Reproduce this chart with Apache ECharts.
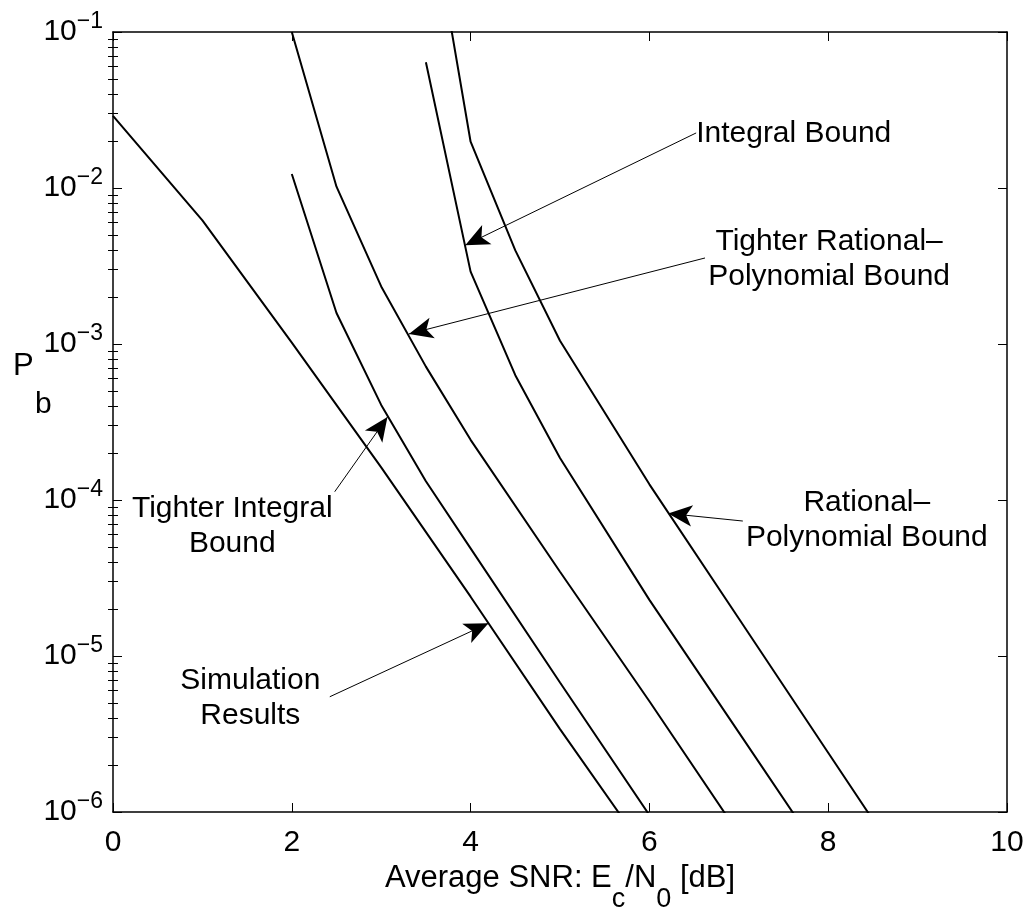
<!DOCTYPE html>
<html>
<head>
<meta charset="UTF-8">
<title>Pb vs average SNR</title>
<script src="https://cdn.jsdelivr.net/npm/echarts@6/dist/echarts.min.js"></script>
<style>
    html, body { margin: 0; padding: 0; background: #fff; }
    #chart { width: 1030px; height: 909px; }
</style>
</head>
<body>
<div id="chart"></div>
<script>
const FONT = '"Liberation Sans", Arial, Helvetica, sans-serif';

// curves: SNR in dB, Pb values
const simX = [0, 1, 2, 3, 4, 5, 6];
const simY = [2.9e-2, 6.2e-3, 1.02e-3, 1.62e-4, 2.4e-5, 3.4e-6, 5.2e-7];

const tightIntX = [2, 2.5, 3, 3.5, 4, 5, 6];
const tightIntY = [1.23e-2, 1.58e-3, 4.07e-4, 1.32e-4, 4.9e-5, 6.76e-6, 9.55e-7];

const tightRatX = [2, 2.5, 3, 3.5, 4, 5, 6, 7];
const tightRatY = [1.0e-1, 1.02e-2, 2.34e-3, 7.16e-4, 2.43e-4, 3.47e-5, 5.13e-6, 7.24e-7];

const intX = [3.5, 4, 4.5, 5, 6, 7, 8];
const intY = [6.4e-2, 2.91e-3, 6.31e-4, 1.86e-4, 2.29e-5, 3.24e-6, 4.57e-7];

const ratX = [3.5, 4, 4.5, 5, 6, 7, 8, 9];
const ratY = [0.933, 1.98e-2, 3.98e-3, 1.05e-3, 1.26e-4, 1.74e-5, 2.40e-6, 3.31e-7];

// axis ticks
const xTicks = [0, 2, 4, 6, 8, 10];
const decades = [1e-6, 1e-5, 1e-4, 1e-3, 1e-2];
const mantissas = [2, 3, 4, 5, 6, 7, 8, 9];

// annotations: text, text anchor, arrow tail, arrow tip (data units)
const noteText = ['Integral Bound', 'Tighter Rational\u2013\nPolynomial Bound', 'Tighter Integral\nBound', 'Simulation\nResults', 'Rational\u2013\nPolynomial Bound'];
const noteAlign = ['left', 'center', 'center', 'center', 'center'];
const noteAt = [[6.523, 2.234e-2], [8.010, 3.48e-3], [1.334, 6.76e-5], [1.536, 5.38e-6], [8.432, 7.39e-5]];
const arrowTail = [[6.523, 2.254e-2], [6.622, 3.56e-3], [2.48, 1.13e-4], [2.425, 5.48e-6], [7.045, 7.33e-5]];
const arrowTip = [[3.94, 4.3e-3], [3.31, 1.16e-3], [3.07, 3.4e-4], [4.20, 1.62e-5], [6.21, 8.2e-5]];

const minorTicks = [];
decades.forEach(d => mantissas.forEach(m => minorTicks.push(+(m * d).toPrecision(3))));

const black = '#000';
const boxLine = { show: true, onZero: false, lineStyle: { color: black, width: 1.5 } };

function curve(name, xs, ys) {
    return {
        name: name,
        type: 'line',
        xAxisIndex: 0,
        yAxisIndex: 0,
        data: xs.map((x, i) => [x, ys[i]]),
        symbol: 'none',
        clip: true,
        silent: true,
        lineStyle: { color: black, width: 2 }
    };
}

function xAxisOf(pos, withLabels) {
    return {
        type: 'value', position: pos, min: 0, max: 10, interval: 2,
        axisLine: boxLine,
        axisTick: { show: true, inside: true, length: 9, lineStyle: { color: black, width: 1 } },
        axisLabel: {
            show: withLabels, margin: 16, color: black, fontSize: 30, fontFamily: FONT
        },
        splitLine: { show: false }
    };
}

function yAxisOf(pos, withLabels) {
    return {
        type: 'log', logBase: 10, position: pos, min: 1e-6, max: 1e-1,
        axisLine: boxLine,
        axisTick: { show: true, inside: true, length: 9, lineStyle: { color: black, width: 1 } },
        axisLabel: {
            show: withLabels, margin: 10, color: black, fontSize: 30, fontFamily: FONT,
            formatter: v => '{b|10}{s|\u2212' + Math.round(-Math.log10(v)) + '}',
            rich: {
                b: { fontSize: 30, lineHeight: 43, fontFamily: FONT, color: black },
                s: { fontSize: 23, lineHeight: 23, verticalAlign: 'top', fontFamily: FONT, color: black }
            }
        },
        splitLine: { show: false }
    };
}

function minorAxisOf(pos) {
    return {
        type: 'log', logBase: 10, position: pos, min: 1e-6, max: 1e-1,
        axisLine: { show: false },
        axisLabel: { show: false },
        splitLine: { show: false },
        axisTick: { show: true, inside: true, length: 5, customValues: minorTicks, lineStyle: { color: black, width: 1 } }
    };
}

const chart = echarts.init(document.getElementById('chart'));

const xMain = xAxisOf('bottom', true);
xMain.name = '{m|Average SNR: E}{s|c}{m|/N}{s|0}{m| [dB]}';
xMain.nameLocation = 'middle';
xMain.nameGap = 29;
xMain.nameTextStyle = {
    color: black,
    rich: {
        m: { fontSize: 31, lineHeight: 70, fontFamily: FONT, color: black },
        s: { fontSize: 27, lineHeight: 27, verticalAlign: 'bottom', fontFamily: FONT, color: black }
    }
};

const sim = curve('Simulation Results', simX, simY);
sim.markLine = {
    silent: true,
    animation: false,
    symbol: ['none', 'arrow'],
    label: { show: false },
    lineStyle: { color: black, width: 1, type: 'solid' },
    data: arrowTail.map((t, i) => [
        { coord: t, symbol: 'none' },
        { coord: arrowTip[i], symbol: 'arrow', symbolSize: [16, 24] }
    ])
};

chart.setOption({
    animation: false,
    backgroundColor: '#fff',
    textStyle: { fontFamily: FONT },
    grid: { left: 113, right: 23, top: 32, bottom: 97, outerBoundsMode: 'none' },
    xAxis: [xMain, xAxisOf('top', false)],
    yAxis: [yAxisOf('left', true), yAxisOf('right', false), minorAxisOf('left'), minorAxisOf('right')],
    series: [
        sim,
        curve('Tighter Integral Bound', tightIntX, tightIntY),
        curve('Tighter Rational-Polynomial Bound', tightRatX, tightRatY),
        curve('Integral Bound', intX, intY),
        curve('Rational-Polynomial Bound', ratX, ratY)
    ]
});

// annotation texts placed through the axes
const notes = noteText.map((t, i) => {
    const p = chart.convertToPixel({ xAxisIndex: 0, yAxisIndex: 0 }, noteAt[i]);
    return {
        type: 'text', silent: true,
        style: {
            text: t, x: p[0], y: p[1], fill: black,
            fontSize: 30, fontFamily: FONT, lineHeight: 35,
            align: noteAlign[i], verticalAlign: 'middle'
        }
    };
});
// y-axis name P_b
notes.push({ type: 'text', silent: true, style: { text: 'P', x: 13, y: 366, fill: black, fontSize: 31, fontFamily: FONT, align: 'left', verticalAlign: 'middle' } });
notes.push({ type: 'text', silent: true, style: { text: 'b', x: 35, y: 405, fill: black, fontSize: 30, fontFamily: FONT, align: 'left', verticalAlign: 'middle' } });

chart.setOption({ graphic: notes });
</script>
</body>
</html>
